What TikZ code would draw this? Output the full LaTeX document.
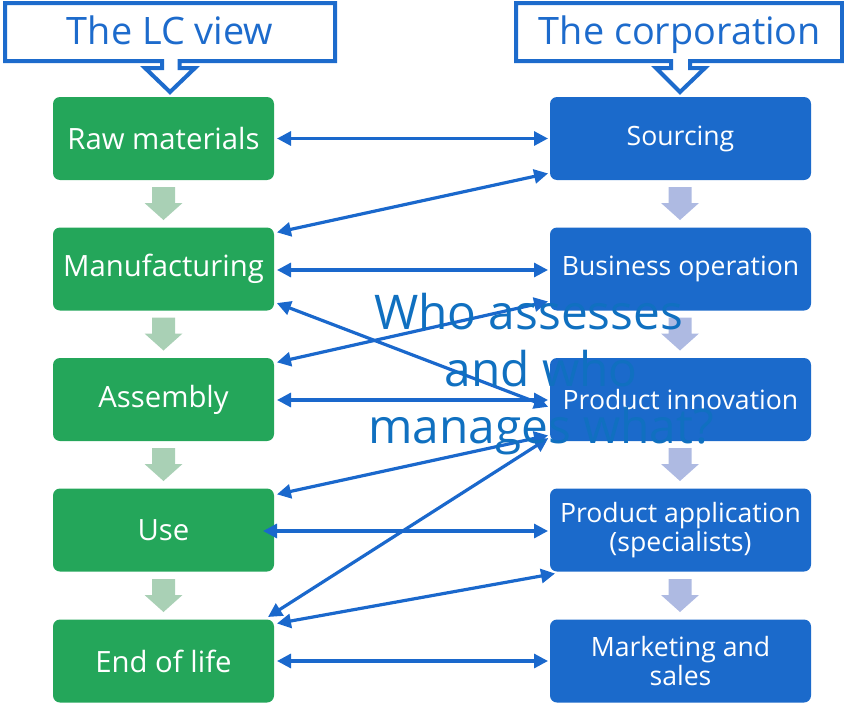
\documentclass[tikz,border=0pt]{standalone}
\usepackage{fontspec}
\setmainfont{Open Sans}
\usetikzlibrary{arrows.meta,calc}
\definecolor{lcgreen}{HTML}{24A65A}
\definecolor{coblue}{HTML}{1B6ACB}
\definecolor{connblue}{HTML}{1A68CC}
\definecolor{hdblue}{HTML}{1D6BCC}
\definecolor{ltgreen}{HTML}{A9D0B5}
\definecolor{ltblue}{HTML}{AEBAE2}
\definecolor{qblue}{HTML}{1070C0}
\begin{document}
\begin{tikzpicture}[x=1pt,y=-1pt,
  lcbox/.style={rectangle, rounded corners=7pt, fill=lcgreen, text=white,
    minimum width=221pt, minimum height=83pt, inner sep=0pt, outer sep=0pt,
    font=\fontsize{29.3}{30}\selectfont},
  cobox/.style={rectangle, rounded corners=7pt, fill=coblue, text=white,
    minimum width=261pt, minimum height=83pt, inner sep=0pt, outer sep=0pt,
    align=center, font=\fontsize{26.6}{29}\selectfont},
  conn/.style={draw=connblue, line width=3.2pt,
    {Triangle[length=14pt,width=14pt]}-{Triangle[length=14pt,width=14pt]},
    shorten <=3pt, shorten >=2pt},
  callout/.style={draw=hdblue, line width=4pt, fill=white, miter limit=10},
  hdtext/.style={text=hdblue, font=\fontsize{37.8}{45}\selectfont, inner sep=0pt, anchor=base},
  darrow/.pic={\fill[#1] (-11.5,0) -- (11.5,0) -- (11.5,16) -- (19,16) -- (0,33) -- (-19,16) -- (-11.5,16) -- cycle;}
]
\useasboundingbox (0,0) rectangle (844,704);

% header callouts
\draw[callout] (5,3) -- (335,3) -- (335,61) -- (179.5,61) -- (179.5,68) -- (195,68) -- (170,92) -- (145,68) -- (162,68) -- (162,61) -- (5,61) -- cycle;
\node[hdtext] (lc) at (170,45) {The LC view};
\draw[callout] (516,3) -- (842,3) -- (842,61) -- (690,61) -- (690,68) -- (705,68) -- (680,92) -- (656,68) -- (671,68) -- (671,61) -- (516,61) -- cycle;
\node[hdtext] (co) at (680,45) {The corporation};

% down arrows
\foreach \y in {187,317.5,448,579}{
  \pic at (163.5,\y) {darrow=ltgreen};
  \pic at (680,\y) {darrow=ltblue};
}

% boxes
\node[lcbox] (raw) at (163.5,138.5) {Raw materials};
\node[lcbox] (man) at (163.5,269) {Manufacturing};
\node[lcbox] (asm) at (163.5,399.5) {Assembly};
\node[lcbox] (use) at (163.5,530) {Use};
\node[lcbox] (eol) at (163.5,661) {End of life};

\node[cobox] (src) at (680.5,138.5) {Sourcing};
\node[cobox] (bus) at (680.5,269) {Business operation};
\node[cobox] (inn) at (680.5,399.5) {Product innovation};
\node[cobox] (app) at (680.5,530) {Product application\\(specialists)};
\node[cobox] (mkt) at (680.5,661) {Marketing and\\sales};

% connectors
\draw[conn] (raw.east) -- (src.west);
\draw[conn] ([yshift=36pt]man.east) -- ([yshift=-34.5pt]src.west);
\draw[conn] ([yshift=-1pt]man.east) -- ([yshift=-1pt]bus.west);
\draw[conn] ([yshift=-33pt]man.east) -- ([yshift=33.5pt]inn.south west);
\draw[conn] ([yshift=36.5pt]asm.east) -- ([yshift=9.5pt]bus.south west);
\draw[conn] ([yshift=-0.5pt]asm.east) -- ([yshift=-0.5pt]inn.west);
\draw[conn] ([yshift=35pt]use.east) -- ([yshift=6pt]inn.south west);
\draw[conn] ([xshift=-14pt,yshift=-1pt]use.east) -- ([yshift=-1pt]app.west);
\draw[conn, shorten <=0pt] ([xshift=-6pt,yshift=2.5pt]eol.north east) -- ([yshift=4pt]inn.south west);
\draw[conn, shorten >=0pt] ([yshift=37pt]eol.east) -- ([xshift=5pt,yshift=-2pt]app.south west);
\draw[conn] (eol.east) -- (mkt.west);

% overlay question
\node[text=qblue, align=center, inner sep=0pt, font=\fontsize{47.8}{57}\selectfont] (q) at (541,374) {Who assesses\hspace*{0.52em}\\and who\hspace*{0.52em}\\manages what?};
\end{tikzpicture}
\end{document}
